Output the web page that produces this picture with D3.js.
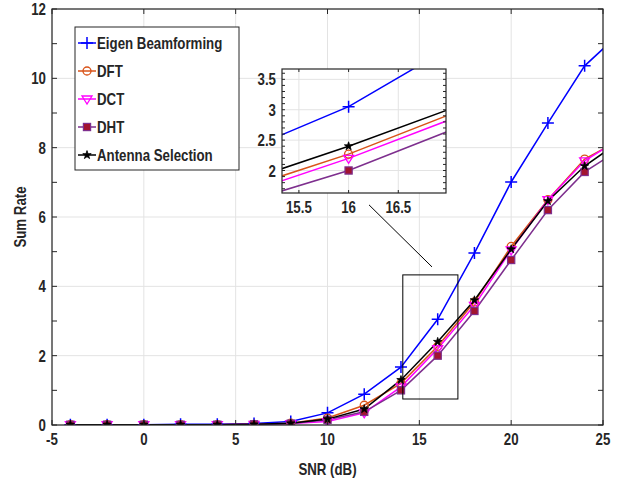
<!DOCTYPE html>
<html>
<head>
<meta charset="utf-8">
<script src="https://cdn.jsdelivr.net/npm/d3@7"></script>
<style>
  body { margin: 0; background: #fff; }
  svg text { font-family: "Liberation Sans", Arial, sans-serif; font-weight: bold; fill: #262626; }
</style>
</head>
<body>
<svg id="chart" width="619" height="485"></svg>
<script>
// data
const snr = [-4, -2, 0, 2, 4, 6, 8, 10, 12, 14, 16, 18, 20, 22, 24, 26];
const eigen = [0.01, 0.01, 0.01, 0.02, 0.02, 0.04, 0.1, 0.35, 0.89, 1.67, 3.05, 4.96, 7.01, 8.71, 10.36, 11.34];
const dft = [0.01, 0.01, 0.01, 0.01, 0.01, 0.02, 0.05, 0.2, 0.57, 1.2, 2.27, 3.55, 5.15, 6.5, 7.67, 8.25];
const dct = [0.01, 0.01, 0.01, 0.01, 0.01, 0.02, 0.04, 0.1, 0.35, 1.1, 2.2, 3.45, 5.05, 6.5, 7.62, 8.28];
const dht = [0.01, 0.01, 0.01, 0.01, 0.01, 0.02, 0.04, 0.15, 0.38, 1.0, 2.0, 3.29, 4.76, 6.2, 7.3, 7.98];
const antSel = [0.01, 0.01, 0.01, 0.01, 0.01, 0.02, 0.05, 0.17, 0.46, 1.3, 2.4, 3.6, 5.07, 6.46, 7.47, 8.21];

const seriesNames = ["Eigen Beamforming", "DFT", "DCT", "DHT", "Antenna Selection"];
const xTicks = [-5, 0, 5, 10, 15, 20, 25];
const yTicks = [0, 2, 4, 6, 8, 10, 12];
const insetXTicks = [15.5, 16, 16.5];
const insetYTicks = [2, 2.5, 3, 3.5];

const series = [
  { name: seriesNames[0], values: eigen, color: "#0000ff", marker: "plus" },
  { name: seriesNames[1], values: dft, color: "#d95319", marker: "circle" },
  { name: seriesNames[2], values: dct, color: "#ff00ff", marker: "tri" },
  { name: seriesNames[3], values: dht, color: "#7e2f8e", marker: "square" },
  { name: seriesNames[4], values: antSel, color: "#000000", marker: "star" }
];

const svg = d3.select("#chart");
const axisCol = "#262626";
const gridCol = "#e3e3e3";
const SQ = 0.83; // horizontal squeeze, the original font is a narrow one

const x = d3.scaleLinear().domain([-5, 25]).range([52, 603]);
const y = d3.scaleLinear().domain([0, 12]).range([425, 9]);

// narrow text helper
function label(g, tx, ty, str, anchor, fs, rot) {
  return g.append("text")
    .attr("transform", `translate(${tx},${ty})${rot ? ` rotate(${rot})` : ""} scale(${SQ},1)`)
    .attr("text-anchor", anchor).style("font-size", fs + "px").text(str);
}

function drawMarker(g, d, s, scale) {
  const px = s.x(d[0]), py = s.y(d[1]);
  const k = scale;
  if (d.marker === "plus") {
    g.append("path").attr("d", `M${px - 6 * k},${py}H${px + 6 * k}M${px},${py - 6 * k}V${py + 6 * k}`)
      .attr("stroke", d.color).attr("stroke-width", 1.5).attr("fill", "none");
  } else if (d.marker === "circle") {
    g.append("circle").attr("cx", px).attr("cy", py).attr("r", 4 * k)
      .attr("stroke", d.color).attr("stroke-width", 1.3).attr("fill", "none");
  } else if (d.marker === "tri") {
    const r = 5 * k;
    g.append("path").attr("d", `M${px - r},${py - r * 0.6}L${px + r},${py - r * 0.6}L${px},${py + r}Z`)
      .attr("stroke", d.color).attr("stroke-width", 1.3).attr("fill", "none");
  } else if (d.marker === "square") {
    const r = 3.6 * k;
    g.append("rect").attr("x", px - r).attr("y", py - r).attr("width", 2 * r).attr("height", 2 * r)
      .attr("stroke", d.color).attr("stroke-width", 1.2).attr("fill", "#a2142f");
  } else if (d.marker === "star") {
    g.append("path").attr("d", d3.symbol(d3.symbolStar, 22 * k * k)())
      .attr("transform", `translate(${px},${py})`).attr("fill", d.color).attr("stroke", d.color).attr("stroke-width", 0.8);
  }
}

function drawGrid(g, sx, sy, xt, yt) {
  const [x0, x1] = sx.range();
  const [y0, y1] = sy.range();
  g.append("rect").attr("x", x0).attr("y", y1).attr("width", x1 - x0).attr("height", y0 - y1).attr("fill", "#fff");
  g.selectAll(".gx").data(xt).join("line").attr("class", "gx")
    .attr("x1", d => sx(d)).attr("x2", d => sx(d)).attr("y1", y0).attr("y2", y1)
    .attr("stroke", gridCol).attr("stroke-width", 1);
  g.selectAll(".gy").data(yt).join("line").attr("class", "gy")
    .attr("y1", d => sy(d)).attr("y2", d => sy(d)).attr("x1", x0).attr("x2", x1)
    .attr("stroke", gridCol).attr("stroke-width", 1);
}

function drawFrame(g, sx, sy, xt, yt, yMinor, tl, fs) {
  const [x0, x1] = sx.range();
  const [y0, y1] = sy.range();
  const t = g.append("g").attr("stroke", axisCol).attr("stroke-width", 1);
  xt.forEach(v => {
    t.append("line").attr("x1", sx(v)).attr("x2", sx(v)).attr("y1", y0).attr("y2", y0 - tl);
    t.append("line").attr("x1", sx(v)).attr("x2", sx(v)).attr("y1", y1).attr("y2", y1 + tl);
  });
  yMinor.forEach(v => {
    t.append("line").attr("y1", sy(v)).attr("y2", sy(v)).attr("x1", x0).attr("x2", x0 + tl);
    t.append("line").attr("y1", sy(v)).attr("y2", sy(v)).attr("x1", x1).attr("x2", x1 - tl);
  });
  g.append("rect").attr("x", x0).attr("y", y1).attr("width", x1 - x0).attr("height", y0 - y1)
    .attr("fill", "none").attr("stroke", axisCol).attr("stroke-width", 1.2);
  xt.forEach(v => label(g, sx(v), y0 + 20, v, "middle", fs));
  yt.forEach(v => label(g, x0 - 6, sy(v) + 6, v, "end", fs));
}

function drawSeries(g, sx, sy, clipId, scale) {
  const line = d3.line().x(d => sx(d[0])).y(d => sy(d[1]));
  const pg = g.append("g").attr("clip-path", `url(#${clipId})`);
  series.forEach(s => {
    const pts = snr.map((v, i) => [v, s.values[i]]);
    pg.append("path").datum(pts).attr("d", line)
      .attr("fill", "none").attr("stroke", s.color).attr("stroke-width", 1.5);
  });
  series.forEach(s => {
    snr.forEach((v, i) => {
      const d = [v, s.values[i]];
      d.marker = s.marker; d.color = s.color;
      drawMarker(pg, d, { x: sx, y: sy }, scale);
    });
  });
}

const defs = svg.append("defs");
defs.append("clipPath").attr("id", "clipMain").append("rect")
  .attr("x", x.range()[0]).attr("y", y.range()[1])
  .attr("width", x.range()[1] - x.range()[0]).attr("height", y.range()[0] - y.range()[1]);

// main axes
const main = svg.append("g");
drawGrid(main, x, y, xTicks, yTicks);
drawSeries(main, x, y, "clipMain", 1);
drawFrame(main, x, y, xTicks, yTicks, d3.range(0, 12.01, 1), 5, 16);

label(main, (x.range()[0] + x.range()[1]) / 2, 475, "SNR (dB)", "middle", 16);
label(main, 26, (y.range()[0] + y.range()[1]) / 2, "Sum Rate", "middle", 16, -90);

// zoom box and connector
const zoomBox = { x0: 14.1, x1: 17.1, y0: 0.75, y1: 4.33 };
main.append("rect").attr("x", x(zoomBox.x0)).attr("y", y(zoomBox.y1))
  .attr("width", x(zoomBox.x1) - x(zoomBox.x0)).attr("height", y(zoomBox.y0) - y(zoomBox.y1))
  .attr("fill", "none").attr("stroke", "#000").attr("stroke-width", 1);
const connector = [[12.26, 6.35], [15.69, 4.56]];
main.append("line").attr("x1", x(connector[0][0])).attr("y1", y(connector[0][1]))
  .attr("x2", x(connector[1][0])).attr("y2", y(connector[1][1]))
  .attr("stroke", "#000").attr("stroke-width", 1);

// legend
const leg = main.append("g");
leg.append("rect").attr("x", 75).attr("y", 27).attr("width", 164).attr("height", 143)
  .attr("fill", "#fff").attr("stroke", axisCol).attr("stroke-width", 1);
series.forEach((s, i) => {
  const ly = 43 + i * 28;
  leg.append("line").attr("x1", 78).attr("x2", 96).attr("y1", ly).attr("y2", ly)
    .attr("stroke", s.color).attr("stroke-width", 1.5);
  const d = [0, 0]; d.marker = s.marker; d.color = s.color;
  drawMarker(leg, d, { x: () => 87, y: () => ly }, 1);
  label(leg, 97, ly + 6, s.name, "start", 16);
});

// inset
const ix = d3.scaleLinear().domain([15.33, 16.98]).range([282, 446]);
const iy = d3.scaleLinear().domain([1.63, 3.67]).range([193, 69]);
defs.append("clipPath").attr("id", "clipInset").append("rect")
  .attr("x", 282).attr("y", 69).attr("width", 164).attr("height", 124);
const inset = svg.append("g");
drawGrid(inset, ix, iy, insetXTicks, insetYTicks);
drawSeries(inset, ix, iy, "clipInset", 1);
drawFrame(inset, ix, iy, insetXTicks, insetYTicks, d3.range(1.7, 3.67, 0.1), 3, 16);
</script>
</body>
</html>
